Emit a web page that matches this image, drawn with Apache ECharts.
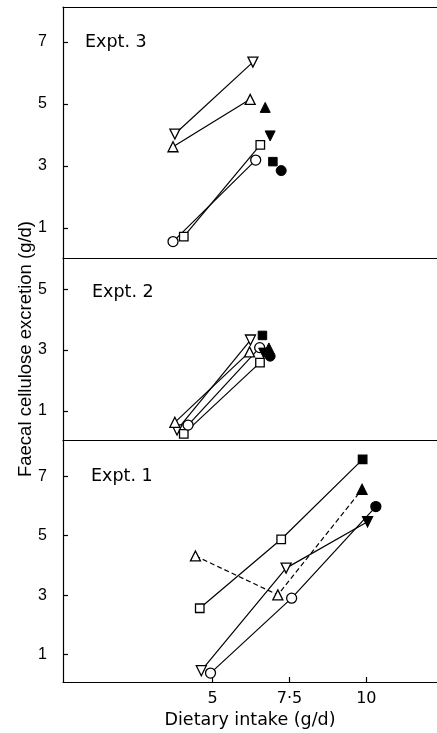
<!DOCTYPE html>
<html>
<head>
<meta charset="utf-8">
<script src="https://cdn.jsdelivr.net/npm/echarts@6/dist/echarts.min.js"></script>
<style>
html,body{margin:0;padding:0;background:#fff;}
#chart{width:437px;height:733px;}
</style>
</head>
<body>
<div id="chart"></div>
<script>
// ---- Data (x = dietary intake g/d, y = faecal cellulose excretion g/d) ----
// Expt. 3 (top panel)
const expt3SquareOpen       = [[4.06, 0.72], [6.55, 3.68]];
const expt3CircleOpen       = [[3.71, 0.56], [6.40, 3.19]];
const expt3TriangleOpen     = [[3.71, 3.62], [6.22, 5.15]];
const expt3InvTriangleOpen  = [[3.77, 4.03], [6.31, 6.35]];
const expt3SquareFilled      = [[6.96, 3.14]];
const expt3CircleFilled      = [[7.23, 2.85]];
const expt3TriangleFilled    = [[6.71, 4.89]];
const expt3InvTriangleFilled = [[6.87, 3.97]];

// Expt. 2 (middle panel)
const expt2SquareOpen       = [[4.06, 0.25], [6.54, 2.59]];
const expt2CircleOpen       = [[4.20, 0.54], [6.53, 3.08]];
const expt2TriangleOpen     = [[3.77, 0.63], [6.20, 2.94]];
const expt2InvTriangleOpen  = [[3.84, 0.38], [6.23, 3.33]];
const expt2SquareFilled      = [[6.62, 3.48]];
const expt2CircleFilled      = [[6.87, 2.80]];
const expt2TriangleFilled    = [[6.83, 3.07]];
const expt2InvTriangleFilled = [[6.66, 2.90]];

// Expt. 1 (bottom panel): last point of each series is the filled symbol
const expt1Square      = [[4.58, 2.56], [7.23, 4.88], [9.88, 7.57]];
const expt1Triangle    = [[4.44, 4.32], [7.12, 3.01], [9.86, 6.56]];
const expt1InvTriangle = [[4.63, 0.46], [7.39, 3.91], [10.04, 5.47]];
const expt1Circle      = [[4.93, 0.38], [7.57, 2.90], [10.31, 5.98]];

// Tick labels
const xTicks = [5, 7.5, 10];
const yTicksTop = [1, 3, 5, 7];
const yTicksMid = [1, 3, 5];
const yTicksBot = [1, 3, 5, 7];
const panelLabels = ['Expt. 3', 'Expt. 2', 'Expt. 1'];

// ---- Styling ----
const BLACK = '#000';
const FONT = 'DejaVu Sans';
const shapes = {
  square: {symbol: 'rect', size: 8.5, rotate: 0},
  circle: {symbol: 'circle', size: 10, rotate: 0},
  triangle: {symbol: 'triangle', size: 10, rotate: 0},
  inv: {symbol: 'triangle', size: 10, rotate: 180}
};

function lineSeries(points, shape, xi, yi, filledLast, dashed) {
  const s = shapes[shape];
  return {
    type: 'line', xAxisIndex: xi, yAxisIndex: yi,
    symbol: s.symbol, symbolSize: s.size, symbolRotate: s.rotate,
    showAllSymbol: true, z: 3,
    lineStyle: {color: BLACK, width: 1.2, type: dashed ? [5, 3] : 'solid'},
    itemStyle: {color: '#fff', borderColor: BLACK, borderWidth: 1.3, opacity: 1},
    data: points.map((p, i) => {
      const filled = filledLast && i === points.length - 1;
      return {value: p, itemStyle: {color: filled ? BLACK : '#fff'}};
    })
  };
}
function filledSeries(points, shape, xi, yi) {
  const s = shapes[shape];
  return {
    type: 'scatter', xAxisIndex: xi, yAxisIndex: yi,
    symbol: s.symbol, symbolSize: s.size, symbolRotate: s.rotate, z: 4,
    itemStyle: {color: BLACK, borderColor: BLACK, borderWidth: 1, opacity: 1},
    data: points
  };
}

const xMin = 0.13, xMax = 12.3;
const grids = [
  {left: 63, right: 0, top: 7, height: 251},
  {left: 63, right: 0, top: 258, height: 182},
  {left: 63, right: 0, top: 440, height: 242}
];
const axisLine = {show: true, lineStyle: {color: BLACK, width: 1.2}};

function plainX(gi, pos) {
  return {type: 'value', gridIndex: gi, position: pos, min: xMin, max: xMax,
    axisLine: axisLine, axisTick: {show: false}, axisLabel: {show: false}, splitLine: {show: false}};
}
function yAx(gi, min, max, ticks, extra) {
  return Object.assign({type: 'value', gridIndex: gi, min: min, max: max,
    axisLine: axisLine,
    axisTick: {show: true, inside: true, length: 5, customValues: ticks, lineStyle: {color: BLACK, width: 1.2}},
    axisLabel: {show: true, customValues: ticks, margin: 16, color: BLACK, fontFamily: 'Liberation Sans', fontSize: 16},
    splitLine: {show: false}}, extra || {});
}

const option = {
  animation: false,
  backgroundColor: '#fff',
  grid: grids,
  xAxis: [
    plainX(0, 'bottom'),
    plainX(0, 'top'),
    plainX(1, 'bottom'),
    {type: 'value', gridIndex: 2, position: 'bottom', min: xMin, max: xMax,
      axisLine: axisLine,
      axisTick: {show: true, inside: true, length: 5, customValues: xTicks, lineStyle: {color: BLACK, width: 1.2}},
      axisLabel: {show: true, customValues: xTicks, margin: 9, color: BLACK, fontFamily: FONT, fontSize: 16,
        formatter: v => String(v).replace('.', '\u00b7')},
      splitLine: {show: false},
      name: 'Dietary intake (g/d)', nameLocation: 'middle', nameGap: 29, nameMoveOverlap: false,
      nameTextStyle: {color: BLACK, fontFamily: FONT, fontSize: 17.5}}
  ],
  yAxis: [
    yAx(0, 0.03, 8.13, yTicksTop),
    yAx(1, 0.05, 6.02, yTicksMid, {name: 'Faecal cellulose excretion (g/d)', nameLocation: 'middle', nameGap: 28,
      nameMoveOverlap: false,
      nameTextStyle: {color: BLACK, fontFamily: 'Liberation Sans', fontSize: 18.5}}),
    yAx(2, 0.08, 8.22, yTicksBot)
  ],
  graphic: [
    {type: 'text', left: 85, top: 33, style: {text: panelLabels[0], font: '17.5px "DejaVu Sans"', fill: BLACK}},
    {type: 'text', left: 92, top: 283, style: {text: panelLabels[1], font: '17.5px "DejaVu Sans"', fill: BLACK}},
    {type: 'text', left: 91, top: 467, style: {text: panelLabels[2], font: '17.5px "DejaVu Sans"', fill: BLACK}}
  ],
  series: [
    // Expt. 3
    lineSeries(expt3InvTriangleOpen, 'inv', 0, 0),
    lineSeries(expt3TriangleOpen, 'triangle', 0, 0),
    lineSeries(expt3SquareOpen, 'square', 0, 0),
    lineSeries(expt3CircleOpen, 'circle', 0, 0),
    filledSeries(expt3TriangleFilled, 'triangle', 0, 0),
    filledSeries(expt3InvTriangleFilled, 'inv', 0, 0),
    filledSeries(expt3SquareFilled, 'square', 0, 0),
    filledSeries(expt3CircleFilled, 'circle', 0, 0),
    // Expt. 2
    lineSeries(expt2InvTriangleOpen, 'inv', 2, 1),
    lineSeries(expt2TriangleOpen, 'triangle', 2, 1),
    lineSeries(expt2SquareOpen, 'square', 2, 1),
    lineSeries(expt2CircleOpen, 'circle', 2, 1),
    filledSeries(expt2SquareFilled, 'square', 2, 1),
    filledSeries(expt2TriangleFilled, 'triangle', 2, 1),
    filledSeries(expt2InvTriangleFilled, 'inv', 2, 1),
    filledSeries(expt2CircleFilled, 'circle', 2, 1),
    // Expt. 1
    lineSeries(expt1Square, 'square', 3, 2, true),
    lineSeries(expt1Triangle, 'triangle', 3, 2, true, true),
    lineSeries(expt1InvTriangle, 'inv', 3, 2, true),
    lineSeries(expt1Circle, 'circle', 3, 2, true)
  ]
};

const chart = echarts.init(document.getElementById('chart'), null, {renderer: 'canvas'});
chart.setOption(option);
</script>
</body>
</html>
